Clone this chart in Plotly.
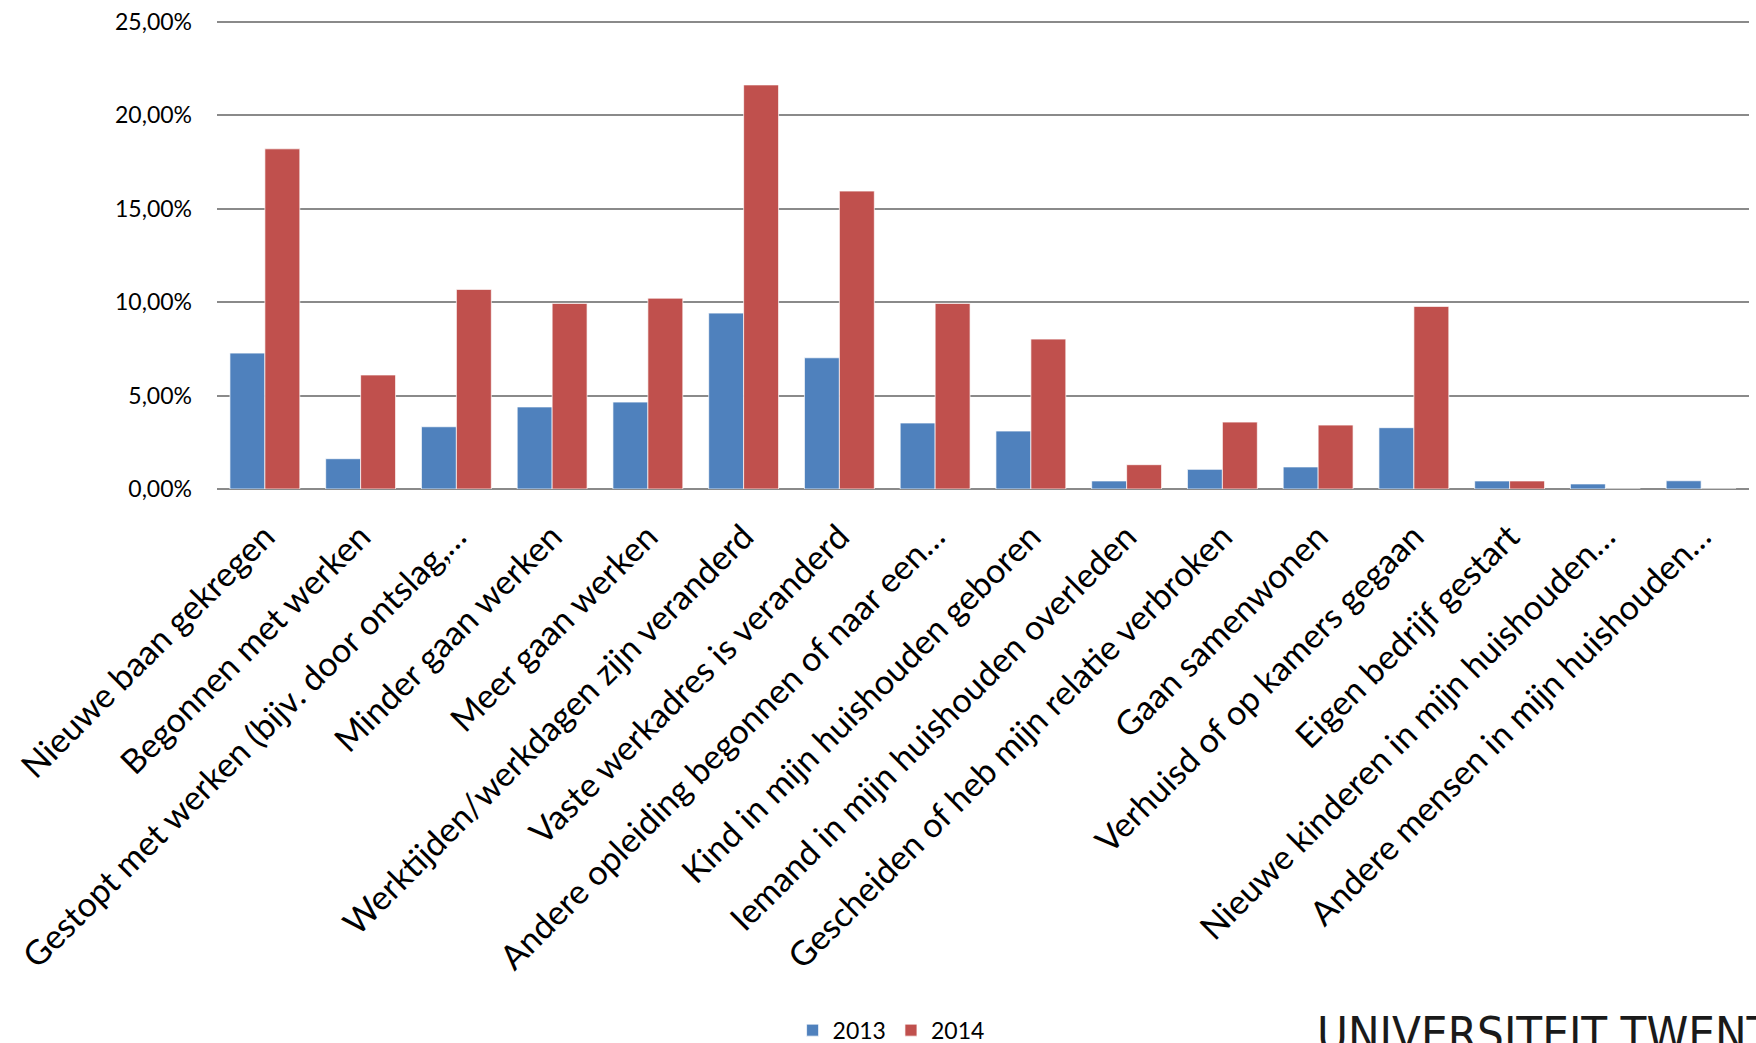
import plotly.graph_objects as go

# Survey answers: life events reported, share of respondents per year
categories = [
    "Nieuwe baan gekregen",
    "Begonnen met werken",
    "Gestopt met werken (bijv. door ontslag,…",
    "Minder gaan werken",
    "Meer gaan werken",
    "Werktijden/werkdagen zijn veranderd",
    "Vaste werkadres is veranderd",
    "Andere opleiding begonnen of naar een…",
    "Kind in mijn huishouden geboren",
    "Iemand in mijn huishouden overleden",
    "Gescheiden of heb mijn relatie verbroken",
    "Gaan samenwonen",
    "Verhuisd of op kamers gegaan",
    "Eigen bedrijf gestart",
    "Nieuwe kinderen in mijn huishouden…",
    "Andere mensen in mijn huishouden…",
]

share_2013 = [7.27, 1.62, 3.33, 4.39, 4.65, 9.41, 7.02, 3.53, 3.10, 0.43,
              1.05, 1.18, 3.28, 0.43, 0.27, 0.44]
share_2014 = [18.20, 6.10, 10.68, 9.93, 10.21, 21.62, 15.94, 9.93, 8.02, 1.30,
              3.58, 3.42, 9.77, 0.43, 0.0, 0.0]

y_ticks = [0, 5, 10, 15, 20, 25]
y_tick_labels = ["0,00%", "5,00%", "10,00%", "15,00%", "20,00%", "25,00%"]

BLUE = "#4F81BD"
RED = "#C0504D"
GRID = "#8a8a8a"
FONT = "Lato, 'Open Sans', sans-serif"

fig = go.Figure()
fig.add_trace(go.Bar(
    x=categories, y=share_2013, name="2013",
    marker=dict(color=BLUE, line=dict(color="rgba(255,255,255,0.7)", width=1)),
))
fig.add_trace(go.Bar(
    x=categories, y=share_2014, name="2014",
    marker=dict(color=RED, line=dict(color="rgba(255,255,255,0.7)", width=1)),
))

fig.update_layout(
    width=1756,
    height=1043,
    margin=dict(l=217, r=7, t=18, b=554, autoexpand=False),
    paper_bgcolor="white",
    plot_bgcolor="white",
    barmode="group",
    bargap=0.27,
    bargroupgap=0,
    font=dict(family=FONT, color="black"),
    showlegend=True,
    legend=dict(
        orientation="h",
        x=0.44, xanchor="center",
        y=-1.149, yanchor="middle",
        font=dict(family=FONT, size=23, color="black"),
        itemwidth=30,
        traceorder="normal",
    ),
)

fig.update_xaxes(
    tickangle=-45,
    tickfont=dict(family=FONT, size=34, color="black"),
    showgrid=False,
    showline=False,
    ticks="",
    ticklabelstandoff=20,
    automargin=False,
)

fig.update_yaxes(
    range=[0, 25.2],
    tickvals=y_ticks,
    ticktext=y_tick_labels,
    tickfont=dict(family=FONT, size=23, color="black"),
    showgrid=True,
    gridcolor=GRID,
    gridwidth=2,
    zeroline=True,
    zerolinecolor=GRID,
    zerolinewidth=2,
    showline=False,
    ticks="",
    ticklabelstandoff=24,
    automargin=False,
)

# Institution name at the lower right, partly running off the page
fig.add_annotation(
    text="UNIVERSITEIT TWENTE",
    xref="paper", yref="paper",
    x=0.717, xanchor="left",
    y=-1.157, yanchor="middle",
    showarrow=False,
    font=dict(family="'Liberation Sans Narrow', 'DejaVu Sans Condensed', sans-serif",
              size=47, color="#1a1a1a"),
)

fig.write_html("out.html")
